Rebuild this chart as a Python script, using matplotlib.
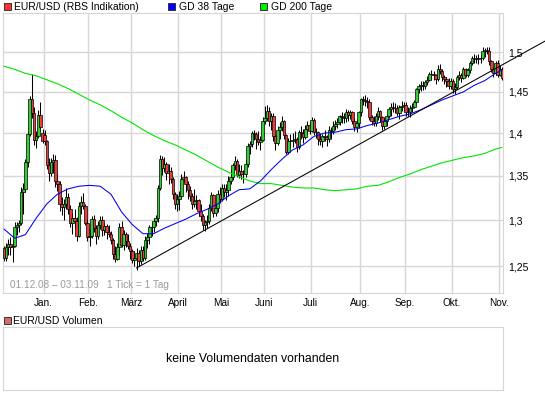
import matplotlib
matplotlib.use("Agg")
import matplotlib.pyplot as plt
from matplotlib.patches import Rectangle
from matplotlib.ticker import FixedLocator, FuncFormatter, NullLocator
import numpy as np
import pandas as pd

plt.rcParams['font.family'] = ['Liberation Sans', 'DejaVu Sans']

# trading days (holidays missing in the feed)
HOLIDAYS = ["2008-12-24", "2008-12-25", "2008-12-26", "2008-12-31",
            "2009-01-01", "2009-04-10", "2009-04-13", "2009-05-01"]

open_ = [
    1.269, 1.259, 1.270, 1.274, 1.271, 1.272, 1.292, 1.294, 1.297, 1.331, 1.335, 1.366, 1.399, 1.441, 1.424, 1.392, 1.396, 1.422, 1.400,
    1.398, 1.390, 1.362, 1.353, 1.366, 1.368, 1.344, 1.341, 1.318, 1.314, 1.318, 1.326, 1.312, 1.297, 1.302, 1.299, 1.283, 1.316, 1.320, 1.316, 1.297,
    1.281, 1.283, 1.301, 1.291, 1.283, 1.294, 1.300, 1.289, 1.293, 1.287, 1.285, 1.278, 1.263, 1.258, 1.270, 1.292, 1.273, 1.285, 1.277, 1.272,
    1.266, 1.257, 1.259, 1.264, 1.255, 1.267, 1.259, 1.278, 1.281, 1.292, 1.292, 1.299, 1.302, 1.336, 1.369, 1.359, 1.363, 1.353, 1.356, 1.346, 1.329, 1.318,
    1.324, 1.327, 1.346, 1.348, 1.341, 1.334, 1.327, 1.318, 1.321, 1.322, 1.310, 1.304, 1.294, 1.298, 1.299, 1.313, 1.328, 1.308, 1.313, 1.329,
    1.324, 1.336, 1.332, 1.334, 1.344, 1.348, 1.362, 1.367, 1.351, 1.356, 1.352, 1.352, 1.363, 1.385, 1.387, 1.400, 1.399, 1.393, 1.389, 1.392,
    1.415, 1.418, 1.427, 1.414, 1.420, 1.396, 1.388, 1.404, 1.407, 1.414, 1.398, 1.378, 1.391, 1.390, 1.392, 1.393, 1.383, 1.401, 1.400, 1.395, 1.405, 1.410,
    1.403, 1.416, 1.401, 1.401, 1.393, 1.391, 1.396, 1.395, 1.393, 1.404, 1.403, 1.408, 1.411, 1.413, 1.420, 1.419, 1.418, 1.425, 1.422, 1.425, 1.415, 1.407, 1.412,
    1.425, 1.441, 1.440, 1.439, 1.438, 1.419, 1.415, 1.412, 1.420, 1.427, 1.419, 1.408, 1.415, 1.420, 1.429, 1.432, 1.430, 1.430, 1.424, 1.432, 1.433,
    1.434, 1.425, 1.425, 1.430, 1.432, 1.437, 1.453, 1.457, 1.459, 1.457, 1.462, 1.465, 1.472, 1.472, 1.471, 1.466, 1.479, 1.476, 1.468, 1.466, 1.463, 1.457,
    1.464, 1.453, 1.456, 1.468, 1.471, 1.467, 1.478, 1.471, 1.477, 1.486, 1.492, 1.493, 1.491, 1.493, 1.492, 1.501, 1.503, 1.501, 1.488, 1.479, 1.473, 1.486,
    1.471, 1.479,
]
high = [
    1.272, 1.275, 1.279, 1.281, 1.278, 1.298, 1.298, 1.300, 1.337, 1.342, 1.369, 1.403, 1.445, 1.472, 1.432, 1.402, 1.428, 1.437, 1.405,
    1.404, 1.392, 1.370, 1.370, 1.375, 1.374, 1.352, 1.344, 1.326, 1.323, 1.336, 1.330, 1.317, 1.308, 1.312, 1.303, 1.320, 1.327, 1.330, 1.318, 1.301,
    1.290, 1.305, 1.306, 1.295, 1.299, 1.305, 1.304, 1.297, 1.296, 1.294, 1.288, 1.280, 1.272, 1.275, 1.297, 1.299, 1.289, 1.287, 1.285, 1.275,
    1.268, 1.266, 1.269, 1.267, 1.272, 1.272, 1.282, 1.286, 1.295, 1.298, 1.302, 1.306, 1.339, 1.374, 1.373, 1.372, 1.366, 1.363, 1.360, 1.349, 1.332, 1.329,
    1.333, 1.352, 1.356, 1.350, 1.344, 1.338, 1.330, 1.335, 1.328, 1.324, 1.318, 1.307, 1.300, 1.306, 1.318, 1.332, 1.329, 1.318, 1.334, 1.337,
    1.340, 1.341, 1.341, 1.350, 1.358, 1.365, 1.373, 1.369, 1.363, 1.362, 1.357, 1.368, 1.388, 1.391, 1.403, 1.404, 1.401, 1.403, 1.397, 1.419,
    1.433, 1.434, 1.431, 1.424, 1.424, 1.398, 1.408, 1.413, 1.420, 1.416, 1.399, 1.394, 1.399, 1.400, 1.402, 1.395, 1.404, 1.408, 1.405, 1.410, 1.414, 1.413,
    1.419, 1.418, 1.406, 1.402, 1.400, 1.399, 1.404, 1.398, 1.408, 1.407, 1.415, 1.416, 1.418, 1.422, 1.425, 1.424, 1.429, 1.428, 1.428, 1.427, 1.418, 1.416, 1.427,
    1.443, 1.445, 1.446, 1.444, 1.441, 1.422, 1.421, 1.424, 1.431, 1.428, 1.420, 1.418, 1.423, 1.432, 1.436, 1.437, 1.436, 1.434, 1.434, 1.439, 1.437,
    1.438, 1.431, 1.434, 1.436, 1.440, 1.455, 1.460, 1.463, 1.464, 1.465, 1.470, 1.475, 1.477, 1.476, 1.472, 1.483, 1.485, 1.478, 1.471, 1.469, 1.467, 1.467,
    1.466, 1.461, 1.471, 1.476, 1.474, 1.481, 1.480, 1.480, 1.488, 1.495, 1.497, 1.496, 1.497, 1.498, 1.506, 1.505, 1.507, 1.506, 1.490, 1.481, 1.488, 1.490,
    1.484, 1.481,
]
low = [
    1.255, 1.255, 1.262, 1.262, 1.254, 1.270, 1.284, 1.287, 1.295, 1.307, 1.332, 1.360, 1.397, 1.418, 1.386, 1.382, 1.394, 1.403, 1.388,
    1.386, 1.358, 1.344, 1.350, 1.353, 1.337, 1.333, 1.310, 1.306, 1.300, 1.312, 1.307, 1.292, 1.285, 1.291, 1.277, 1.281, 1.307, 1.312, 1.294, 1.277,
    1.272, 1.280, 1.287, 1.274, 1.279, 1.290, 1.282, 1.284, 1.279, 1.281, 1.274, 1.258, 1.254, 1.256, 1.262, 1.270, 1.267, 1.271, 1.268, 1.258,
    1.253, 1.250, 1.246, 1.250, 1.252, 1.255, 1.257, 1.269, 1.274, 1.283, 1.287, 1.293, 1.298, 1.334, 1.351, 1.354, 1.345, 1.340, 1.342, 1.324, 1.312, 1.310,
    1.311, 1.325, 1.343, 1.332, 1.323, 1.321, 1.312, 1.314, 1.312, 1.304, 1.299, 1.289, 1.288, 1.291, 1.296, 1.310, 1.303, 1.304, 1.309, 1.319,
    1.321, 1.326, 1.322, 1.327, 1.340, 1.345, 1.357, 1.349, 1.347, 1.346, 1.342, 1.349, 1.360, 1.375, 1.383, 1.392, 1.381, 1.386, 1.380, 1.390,
    1.411, 1.414, 1.409, 1.404, 1.390, 1.380, 1.386, 1.393, 1.403, 1.393, 1.375, 1.375, 1.384, 1.384, 1.388, 1.378, 1.381, 1.393, 1.388, 1.393, 1.400, 1.399,
    1.401, 1.398, 1.394, 1.386, 1.386, 1.383, 1.390, 1.385, 1.389, 1.393, 1.399, 1.404, 1.406, 1.410, 1.412, 1.412, 1.413, 1.415, 1.417, 1.411, 1.403, 1.401, 1.406,
    1.421, 1.434, 1.433, 1.430, 1.416, 1.410, 1.408, 1.408, 1.416, 1.413, 1.404, 1.405, 1.409, 1.418, 1.420, 1.425, 1.424, 1.420, 1.417, 1.426, 1.427,
    1.421, 1.420, 1.419, 1.425, 1.430, 1.435, 1.448, 1.451, 1.452, 1.453, 1.459, 1.463, 1.466, 1.465, 1.460, 1.464, 1.472, 1.464, 1.460, 1.456, 1.453, 1.453,
    1.448, 1.447, 1.454, 1.465, 1.462, 1.466, 1.468, 1.468, 1.474, 1.483, 1.486, 1.486, 1.485, 1.486, 1.490, 1.494, 1.497, 1.484, 1.475, 1.468, 1.471, 1.469,
    1.470, 1.465,
]
close = [
    1.259, 1.270, 1.274, 1.271, 1.272, 1.292, 1.294, 1.297, 1.331, 1.335, 1.366, 1.399, 1.441, 1.424, 1.392, 1.396, 1.422, 1.407, 1.391,
    1.390, 1.362, 1.353, 1.366, 1.368, 1.344, 1.341, 1.318, 1.314, 1.318, 1.326, 1.312, 1.297, 1.302, 1.299, 1.283, 1.316, 1.320, 1.316, 1.297, 1.281,
    1.283, 1.301, 1.291, 1.283, 1.294, 1.300, 1.289, 1.293, 1.287, 1.285, 1.278, 1.263, 1.258, 1.270, 1.292, 1.273, 1.285, 1.277, 1.272, 1.266,
    1.257, 1.259, 1.264, 1.255, 1.267, 1.259, 1.278, 1.281, 1.292, 1.292, 1.299, 1.302, 1.336, 1.369, 1.359, 1.363, 1.353, 1.356, 1.346, 1.329, 1.318, 1.324,
    1.327, 1.346, 1.348, 1.341, 1.334, 1.327, 1.318, 1.321, 1.322, 1.310, 1.304, 1.294, 1.298, 1.299, 1.313, 1.328, 1.308, 1.313, 1.329, 1.324,
    1.336, 1.332, 1.334, 1.344, 1.348, 1.362, 1.367, 1.351, 1.356, 1.352, 1.352, 1.363, 1.385, 1.387, 1.400, 1.399, 1.393, 1.389, 1.392, 1.415,
    1.418, 1.427, 1.414, 1.420, 1.396, 1.388, 1.404, 1.407, 1.414, 1.398, 1.378, 1.391, 1.390, 1.392, 1.393, 1.383, 1.401, 1.400, 1.395, 1.405, 1.410, 1.403,
    1.416, 1.401, 1.401, 1.393, 1.391, 1.396, 1.395, 1.393, 1.404, 1.403, 1.408, 1.411, 1.413, 1.420, 1.419, 1.418, 1.425, 1.422, 1.425, 1.415, 1.407, 1.412, 1.425,
    1.441, 1.440, 1.439, 1.438, 1.419, 1.415, 1.412, 1.420, 1.427, 1.419, 1.408, 1.415, 1.420, 1.429, 1.432, 1.430, 1.430, 1.424, 1.432, 1.433, 1.434,
    1.425, 1.425, 1.430, 1.432, 1.437, 1.453, 1.457, 1.459, 1.457, 1.462, 1.465, 1.472, 1.472, 1.471, 1.466, 1.479, 1.476, 1.468, 1.466, 1.463, 1.457, 1.464,
    1.453, 1.456, 1.468, 1.471, 1.467, 1.478, 1.471, 1.477, 1.486, 1.492, 1.493, 1.491, 1.493, 1.492, 1.501, 1.503, 1.501, 1.488, 1.479, 1.473, 1.486, 1.471,
    1.479, 1.467,
]

# moving averages, read every 5th trading day (plus the last day)
MA_STEP = 5
gd38 = [1.290, 1.280, 1.284, 1.302, 1.318, 1.329, 1.335, 1.338, 1.339, 1.338,
        1.329, 1.309, 1.295, 1.285, 1.285, 1.291, 1.296, 1.301, 1.307, 1.312,
        1.318, 1.327, 1.334, 1.335, 1.344, 1.357, 1.369, 1.380, 1.386, 1.396,
        1.400, 1.401, 1.404, 1.405, 1.409, 1.412, 1.416, 1.420, 1.423, 1.428,
        1.434, 1.440, 1.445, 1.450, 1.458, 1.464, 1.473, 1.477]
gd200 = [1.482, 1.478, 1.473, 1.470, 1.465, 1.460, 1.454, 1.447, 1.440, 1.434,
         1.427, 1.419, 1.412, 1.404, 1.397, 1.391, 1.386, 1.380, 1.374, 1.367,
         1.360, 1.354, 1.349, 1.344, 1.341, 1.341, 1.339, 1.337, 1.336, 1.336,
         1.334, 1.333, 1.334, 1.335, 1.338, 1.339, 1.343, 1.348, 1.352, 1.357,
         1.361, 1.365, 1.368, 1.371, 1.373, 1.376, 1.381, 1.383]

# trend line anchors (date, value)
trend_anchors = [("2009-03-04", 1.248), ("2009-11-03", 1.4835)]

month_labels = ["Jan.", "Feb.", "März", "April", "Mai", "Juni", "Juli",
                "Aug.", "Sep.", "Okt.", "Nov."]
y_ticks = [1.25, 1.3, 1.35, 1.4, 1.45, 1.5]

days = pd.bdate_range("2008-12-01", "2009-11-03")
days = days[~days.isin(pd.to_datetime(HOLIDAYS))]
n = len(days)
assert n == len(open_) == len(high) == len(low) == len(close)

o = np.array(open_)
h = np.array(high)
l = np.array(low)
c = np.array(close)
x = np.arange(n)

W, H = 545, 395
fig = plt.figure(figsize=(W / 100, H / 100), dpi=100)
ax = fig.add_axes([3 / W, 1 - 293 / H, 500 / W, 280 / H])

ax.set_yscale('log')
ax.set_ylim(1.2217, 1.5507)
ax.set_xlim(-0.5, n - 0.5)

grey = '#d6d6d6'
ax.set_axisbelow(True)
ax.grid(True, color=grey, linewidth=1.0)
for s in ax.spines.values():
    s.set_color(grey)

# candles
up = c >= o
ax.vlines(x, l, h, color='black', linewidth=0.75, zorder=2)
ax.bar(x, np.abs(c - o), bottom=np.minimum(o, c), width=1.2,
       color=np.where(up, '#2fd12f', '#ee3a3a'), edgecolor='black',
       linewidth=0.5, zorder=3)

# moving averages
ma_x = list(range(0, n - 1, MA_STEP)) + [n - 1]
ax.plot(ma_x, gd200, color='#00e600', linewidth=0.8, zorder=4)
ax.plot(ma_x, gd38, color='#0000ee', linewidth=0.75, zorder=4)

# trend line, extended past the right edge
i0 = days.get_loc(pd.Timestamp(trend_anchors[0][0]))
i1 = days.get_loc(pd.Timestamp(trend_anchors[1][0]))
k = (np.log(trend_anchors[1][1]) - np.log(trend_anchors[0][1])) / (i1 - i0)
tx = np.array([i0, n + 19])
ty = np.exp(np.log(trend_anchors[0][1]) + k * (tx - i0))
ax.plot(tx, ty, color='black', linewidth=0.75, zorder=5, clip_on=False)

# axes ticks
ax.yaxis.tick_right()
ax.yaxis.set_major_locator(FixedLocator(y_ticks))
ax.yaxis.set_minor_locator(NullLocator())
ax.yaxis.set_major_formatter(FuncFormatter(lambda v, p: f"{v:g}".replace('.', ',')))
ax.tick_params(axis='y', length=0, pad=3.6, labelsize=7.5)

month_pos = [np.argmax((days.month == m) & (days.year == yr)) - 0.5
             for yr, m in [(2009, mm) for mm in range(1, 12)]]
ax.set_xticks(month_pos)
ax.set_xticklabels(month_labels)
ax.tick_params(axis='x', length=0, pad=3.6, labelsize=7.2)

fig.text(10 / W, 1 - 285.5 / H, "01.12.08 \u2013 03.11.09   1 Tick = 1 Tag",
         color='#9a9a9a', fontsize=7.2, va='center', ha='left')

# legend row
def legend_box(px, py, color):
    fig.add_artist(Rectangle((px / W, 1 - (py + 7) / H), 7 / W, 7 / H,
                             transform=fig.transFigure, facecolor=color,
                             edgecolor='#333333', linewidth=0.7))

legend_box(3.5, 3, '#ff3333')
fig.text(14 / W, 1 - 6.5 / H, "EUR/USD (RBS Indikation)", fontsize=7.5, va='center')
legend_box(167.5, 3, '#0000ff')
fig.text(179 / W, 1 - 6.5 / H, "GD 38 Tage", fontsize=7.5, va='center')
legend_box(259.5, 3, '#00ee00')
fig.text(271 / W, 1 - 6.5 / H, "GD 200 Tage", fontsize=7.5, va='center')

# volume panel
legend_box(3.5, 317, '#d86a6a')
fig.text(13 / W, 1 - 320.5 / H, "EUR/USD Volumen", fontsize=7.5, va='center')
ax2 = fig.add_axes([3 / W, 1 - 390 / H, 500 / W, 63 / H])
ax2.set_xticks([])
ax2.set_yticks([])
for s in ax2.spines.values():
    s.set_color(grey)
ax2.text(0.5, 0.5, "keine Volumendaten vorhanden", transform=ax2.transAxes,
         ha='center', va='center', fontsize=8.8)

fig.savefig("out.png", dpi=100)
